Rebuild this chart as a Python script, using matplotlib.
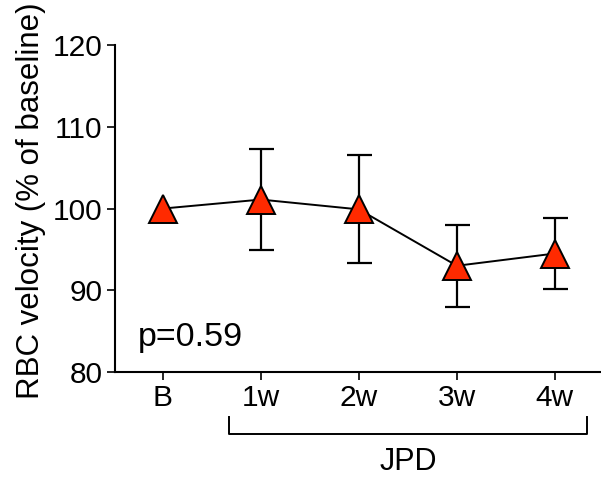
import matplotlib.pyplot as plt

plt.rcParams['font.family'] = ['Liberation Sans', 'DejaVu Sans']

labels = ['B', '1w', '2w', '3w', '4w']
means = [100.0, 101.1, 99.9, 93.0, 94.5]
errs = [0.0, 6.2, 6.6, 5.0, 4.3]

fig = plt.figure(figsize=(6.01, 4.80), dpi=100)
ax = fig.add_axes([0.191, 0.225, 0.809, 0.681])

x = list(range(len(labels)))
ax.errorbar(x[1:], means[1:], yerr=errs[1:], fmt='none', ecolor='black',
            elinewidth=1.6, capsize=9, capthick=1.6, zorder=2)
ax.plot(x, means, color='black', lw=1.4, zorder=3)
ax.plot(x, means, ls='none', marker='^', ms=20, mfc='#ff2a00', mec='black',
        mew=1.4, zorder=4)

ax.set_xlim(-0.49, 4.47)
ax.set_ylim(80, 120)
ax.set_yticks([80, 90, 100, 110, 120])
ax.set_xticks(x)
ax.set_xticklabels(labels)
ax.tick_params(labelsize=21.5, width=1.2, length=6, direction='out', pad=3)
for s in ['top', 'right']:
    ax.spines[s].set_visible(False)
for s in ['left', 'bottom']:
    ax.spines[s].set_linewidth(1.5)
ax.set_ylabel('RBC velocity (% of baseline)', fontsize=22.5)
ax.yaxis.set_label_coords(-0.142, 0.523)

ax.text(-0.255, 83.2, 'p=0.59', fontsize=24.5, ha='left', va='baseline')

# JPD bracket
bx0, bx1 = 0.67, 4.33
by, bh = 72.4, 2.1
ax.plot([bx0, bx0, bx1, bx1], [by + bh, by, by, by + bh], color='black',
        lw=1.4, clip_on=False)
ax.text((bx0 + bx1) / 2, 68.0, 'JPD', fontsize=22, ha='center', va='baseline')

fig.savefig('out.png', dpi=100)
